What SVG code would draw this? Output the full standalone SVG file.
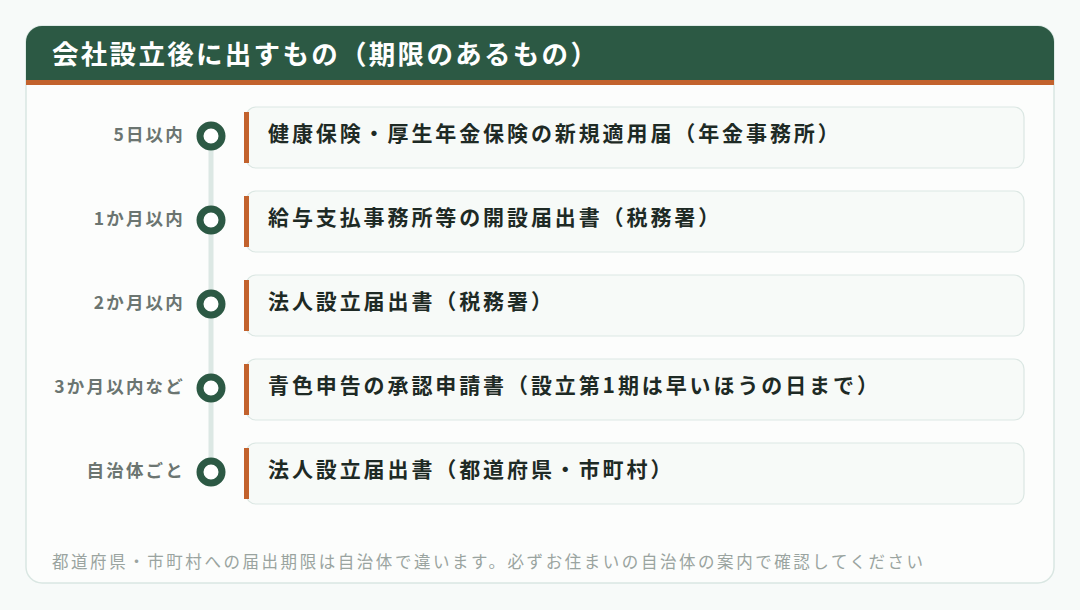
<svg xmlns="http://www.w3.org/2000/svg" width="1080" height="610" viewBox="0 0 1080 610">
<defs>
<style>
.lbl{font-family:"Noto Sans CJK JP","Noto Sans",sans-serif;font-size:17.5px;font-weight:700;fill:#6b7571;text-anchor:end;letter-spacing:2.2px}
.itm{font-family:"Noto Sans CJK JP","Noto Sans",sans-serif;font-size:21px;font-weight:700;fill:#1e2a25;letter-spacing:2.9px}
.box{fill:#f7faf8;stroke:#dbe7e3;stroke-width:1.2}
.acc{fill:#c2622d}
.dot{fill:#ffffff;stroke:#2c5944;stroke-width:7}
</style>
<clipPath id="cc"><rect x="26" y="26" width="1028" height="557" rx="16"/></clipPath>
</defs>
<rect width="1080" height="610" fill="#f7faf9"/>
<rect x="26" y="26" width="1028" height="557" rx="16" fill="#fcfdfc" stroke="#d9e6e2" stroke-width="1.5"/>
<g clip-path="url(#cc)">
<rect x="26" y="26" width="1028" height="54" fill="#2c5944"/>
<rect x="26" y="80" width="1028" height="5" fill="#c2622d"/>
</g>
<text x="52" y="64" font-family="Noto Sans CJK JP,Noto Sans,sans-serif" font-size="26.5" font-weight="700" fill="#ffffff" letter-spacing="2.3">会社設立後に出すもの（期限のあるもの）</text>
<g id="connectors">
<line x1="211" y1="136" x2="211" y2="472" stroke="#dce8e4" stroke-width="5"/>
</g>
<g id="n1">
<rect class="box" x="246" y="107" width="778" height="61" rx="10"/>
<rect class="acc" x="244" y="112" width="5" height="51"/>
<circle class="dot" cx="211" cy="136" r="11"/>
<text class="lbl" x="185" y="141">5日以内</text>
<text class="itm" x="268" y="141">健康保険・厚生年金保険の新規適用届（年金事務所）</text>
</g>
<g id="n2">
<rect class="box" x="246" y="191" width="778" height="61" rx="10"/>
<rect class="acc" x="244" y="196" width="5" height="51"/>
<circle class="dot" cx="211" cy="220" r="11"/>
<text class="lbl" x="185" y="225">1か月以内</text>
<text class="itm" x="268" y="225">給与支払事務所等の開設届出書（税務署）</text>
</g>
<g id="n3">
<rect class="box" x="246" y="275" width="778" height="61" rx="10"/>
<rect class="acc" x="244" y="280" width="5" height="51"/>
<circle class="dot" cx="211" cy="304" r="11"/>
<text class="lbl" x="185" y="309">2か月以内</text>
<text class="itm" x="268" y="309">法人設立届出書（税務署）</text>
</g>
<g id="n4">
<rect class="box" x="246" y="359" width="778" height="61" rx="10"/>
<rect class="acc" x="244" y="364" width="5" height="51"/>
<circle class="dot" cx="211" cy="388" r="11"/>
<text class="lbl" x="185" y="393">3か月以内など</text>
<text class="itm" x="268" y="393">青色申告の承認申請書（設立第1期は早いほうの日まで）</text>
</g>
<g id="n5">
<rect class="box" x="246" y="443" width="778" height="61" rx="10"/>
<rect class="acc" x="244" y="448" width="5" height="51"/>
<circle class="dot" cx="211" cy="472" r="11"/>
<text class="lbl" x="185" y="477">自治体ごと</text>
<text class="itm" x="268" y="477">法人設立届出書（都道府県・市町村）</text>
</g>
<text x="52" y="568" font-family="Noto Sans CJK JP,Noto Sans,sans-serif" font-size="16.5" font-weight="400" fill="#9aa4a0" letter-spacing="2.55">都道府県・市町村への届出期限は自治体で違います。必ずお住まいの自治体の案内で確認してください</text>
</svg>
